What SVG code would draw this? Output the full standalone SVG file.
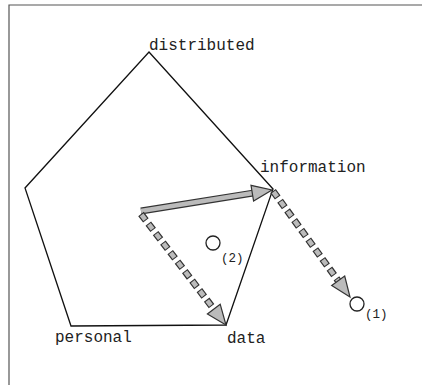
<svg xmlns="http://www.w3.org/2000/svg" width="422" height="385" viewBox="0 0 422 385">
<style>
.t{font-family:"Liberation Mono","DejaVu Sans Mono",monospace;font-size:16px;fill:#222}
.s{font-family:"Liberation Mono","DejaVu Sans Mono",monospace;font-size:12.5px;fill:#222}
.edge{fill:none;stroke:#111;stroke-width:1.3}
.o{stroke:#333;stroke-width:7;fill:none}
.i{stroke:#bbb;stroke-width:4.6;fill:none}
.od{stroke:#333;stroke-width:7;stroke-dasharray:8 4;fill:none}
.id{stroke:#bbb;stroke-width:4.6;stroke-dasharray:6 6;stroke-dashoffset:-1;fill:none}
.head{fill:#bbb;stroke:#333;stroke-width:1.2;stroke-linejoin:miter}
.c{fill:none;stroke:#222;stroke-width:1.3}
</style>
<rect width="422" height="385" fill="#fff"/>
<path d="M9,385 V5 H422" fill="none" stroke="#555" stroke-width="1.2"/>
<g id="pentagon"><path class="edge" d="M149,52 L273,189 L226,325 L71,326 L25,188 Z"/></g>
<g id="distributed"><text class="t" x="149" y="50">distributed</text></g>
<g id="information"><text class="t" x="260" y="172">information</text></g>
<g id="personal"><text class="t" x="55" y="342">personal</text></g>
<g id="data"><text class="t" x="227" y="343">data</text></g>
<g id="point2"><circle class="c" cx="213" cy="243" r="7"/><text class="s" x="221" y="262">(2)</text></g>
<g id="point1"><circle class="c" cx="357" cy="304" r="7"/><text class="s" x="365" y="318">(1)</text></g>
<g id="connectors">
<line class="o" x1="141" y1="211" x2="253" y2="193.1"/>
<line class="i" x1="141" y1="211" x2="253" y2="193.1"/>
<polygon class="head" points="272,190 253.6,201.1 251.0,185.3"/>
<line class="od" x1="141" y1="214" x2="214" y2="309.3"/>
<line class="id" x1="141" y1="214" x2="214" y2="309.3"/>
<polygon class="head" points="226,325 207.4,314.0 220.2,304.2"/>
<line class="od" x1="273" y1="191" x2="338.5" y2="281.2"/>
<line class="id" x1="273" y1="191" x2="338.5" y2="281.2"/>
<polygon class="head" points="350,297 331.7,285.5 344.7,276.1"/>
</g>
</svg>
